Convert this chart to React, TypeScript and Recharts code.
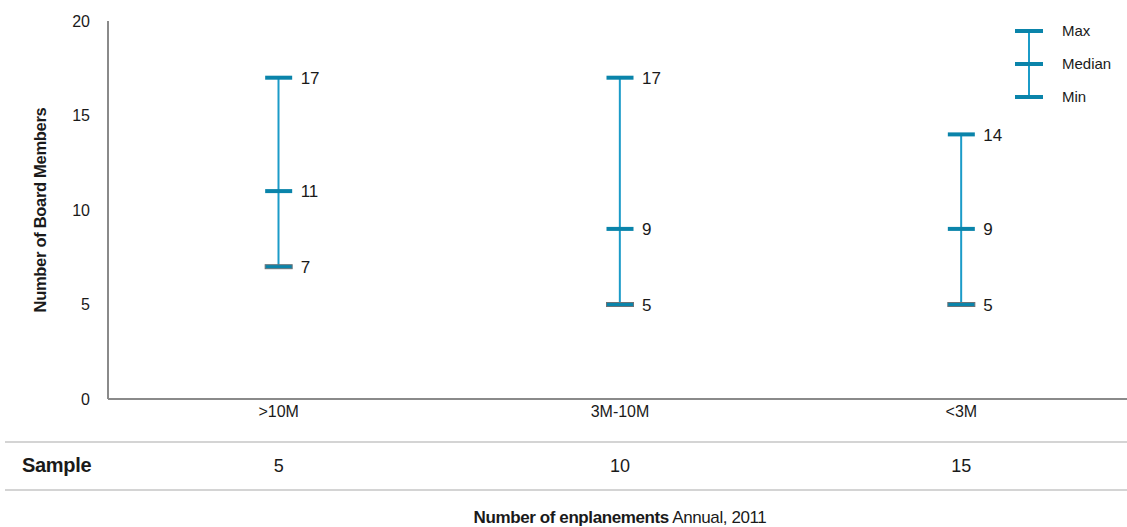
import React from 'react';
import { ComposedChart, Bar, Scatter, XAxis, YAxis, Label } from 'recharts';

const categories = ['>10M', '3M-10M', '<3M'];
const minValues = [7, 5, 5];
const medianValues = [11, 9, 9];
const maxValues = [17, 17, 14];
const sampleSizes = [5, 10, 15];
const yTicks = [0, 5, 10, 15, 20];

const data = categories.map((c, i) => ({
  cat: c,
  min: minValues[i],
  median: medianValues[i],
  max: maxValues[i],
  range: [minValues[i], maxValues[i]],
  sample: sampleSizes[i],
}));

const FONT = '"Liberation Sans", Arial, sans-serif';
const CAP = '#0a84aa';
const LINE = '#1b9bc8';
const TEXT = '#1a1a1a';

const RangeShape = (props: any) => {
  const { x, y, width, height } = props;
  const cx = x + width / 2;
  return <line x1={cx} x2={cx} y1={y} y2={y + height} stroke={LINE} strokeWidth={2} />;
};

const makeCap = (key: string, isMin: boolean) => (props: any) => {
  const { cx, cy, payload } = props;
  return (
    <g>
      <rect
        x={cx - 13.5}
        y={cy - 2}
        width={27}
        height={4}
        fill={CAP}
        stroke={isMin ? '#6a7378' : 'none'}
        strokeWidth={isMin ? 1 : 0}
      />
      <text x={cx + 22} y={cy} dy="0.36em" fontSize={17} fill={TEXT} fontFamily={FONT}>
        {payload[key]}
      </text>
    </g>
  );
};

const YLabel = (props: any) => {
  const { viewBox } = props;
  const x = viewBox.x + 40;
  const y = viewBox.y + viewBox.height / 2;
  return (
    <text
      x={x}
      y={y}
      transform={`rotate(-90 ${x} ${y})`}
      textAnchor="middle"
      dominantBaseline="central"
      fontSize={16.5}
      fontWeight="bold"
      fill={TEXT}
      fontFamily={FONT}
      letterSpacing={-0.3}
    >
      Number of Board Members
    </text>
  );
};

const legendItems = [
  { label: 'Max', y: 31 },
  { label: 'Median', y: 64 },
  { label: 'Min', y: 97 },
];

export default function App() {
  return (
    <div style={{ position: 'absolute', left: 0, top: 0, width: 1127, height: 527, background: '#fff', fontFamily: FONT }}>
      <ComposedChart
        width={1127}
        height={527}
        data={data}
        margin={{ top: 21, right: -5, bottom: 37, left: 0 }}
      >
        <XAxis
          dataKey="cat"
          xAxisId="main"
          height={43}
          tickLine={false}
          axisLine={{ stroke: '#8a8a8a', strokeWidth: 2 }}
          tick={{ fontSize: 16, fill: TEXT, fontFamily: FONT }}
          tickMargin={1}
        />
        <XAxis
          dataKey="cat"
          xAxisId="sample"
          height={48}
          tickLine={false}
          axisLine={false}
          tickFormatter={(_v: any, i: number) => String(sampleSizes[i])}
          tick={{ fontSize: 18, fill: TEXT, fontFamily: FONT }}
          tickMargin={11}
        />
        <YAxis
          domain={[0, 20]}
          ticks={yTicks}
          width={108}
          tickLine={false}
          axisLine={{ stroke: '#8a8a8a', strokeWidth: 2 }}
          tick={{ fontSize: 16, fill: TEXT, fontFamily: FONT }}
          tickMargin={12}
        >
          <Label content={YLabel} />
        </YAxis>
        <Bar dataKey="range" xAxisId="main" barSize={27} shape={RangeShape} isAnimationActive={false} />
        <Scatter dataKey="max" xAxisId="main" shape={makeCap('max', false)} isAnimationActive={false} />
        <Scatter dataKey="median" xAxisId="main" shape={makeCap('median', false)} isAnimationActive={false} />
        <Scatter dataKey="min" xAxisId="main" shape={makeCap('min', true)} isAnimationActive={false} />
      </ComposedChart>

      <div style={{ position: 'absolute', left: 5, right: 0, top: 441, height: 2, background: '#d4d4d4' }} />
      <div style={{ position: 'absolute', left: 5, right: 0, top: 489, height: 2, background: '#d4d4d4' }} />
      <div style={{ position: 'absolute', left: 22, top: 454, fontSize: 20, fontWeight: 'bold', color: TEXT, letterSpacing: -0.3 }}>Sample</div>
      <div style={{ position: 'absolute', left: 0, width: 1240, top: 508, textAlign: 'center', fontSize: 17, color: TEXT, letterSpacing: -0.4 }}>
        <b>Number of enplanements</b> Annual, 2011
      </div>

      <svg style={{ position: 'absolute', left: 1000, top: 15 }} width={127} height={100}>
        <line x1={29} x2={29} y1={16} y2={82} stroke={LINE} strokeWidth={2} />
        {legendItems.map((it) => (
          <g key={it.label}>
            <rect x={15} y={it.y - 15 - 2} width={28} height={4} fill={CAP} />
            <text x={62} y={it.y - 15} dy="0.36em" fontSize={15} fill={TEXT} fontFamily={FONT}>
              {it.label}
            </text>
          </g>
        ))}
      </svg>
    </div>
  );
}
